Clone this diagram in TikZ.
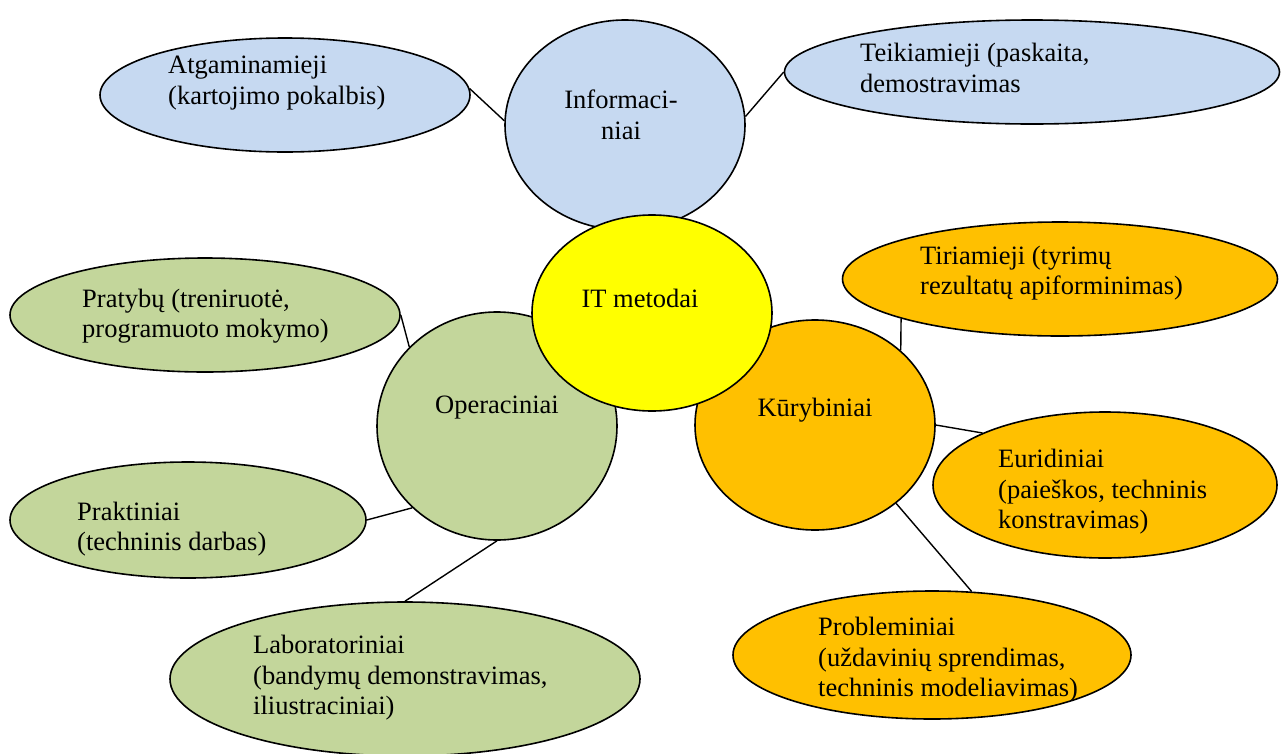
\documentclass[tikz,border=0pt]{standalone}
\usepackage{fontspec}
\setmainfont{Liberation Serif}
\usetikzlibrary{shapes.geometric}
\definecolor{cblue}{HTML}{C6D9F1}
\definecolor{cgreen}{HTML}{C3D69B}
\definecolor{corange}{HTML}{FFC000}
\definecolor{cyellow}{HTML}{FFFF00}
\begin{document}
\begin{tikzpicture}[x=1pt,y=-1pt,
  oval/.style={ellipse, draw=black, line width=1.6pt, inner sep=0pt},
  blueoval/.style={oval, fill=cblue},
  greenoval/.style={oval, fill=cgreen},
  orangeoval/.style={oval, fill=corange},
  txt/.style={font=\fontsize{26.5}{30.5}\selectfont, inner sep=0pt, align=left, anchor=west},
  ctxt/.style={font=\fontsize{26.5}{30.5}\selectfont, inner sep=0pt, align=center},
  link/.style={draw=black, line width=1.4pt}]
\clip (0,0) rectangle (1283,753);
% top (blue)
\node[blueoval, minimum width=370pt, minimum height=114pt] (atg) at (285,95) {};
\node[txt] (atgt) at (168,83) {Atgaminamieji\\(kartojimo pokalbis)};
\node[blueoval, minimum width=495pt, minimum height=104pt] (teik) at (1032,72) {};
\node[txt] (teikt) at (860,68) {Teikiamieji (paskaita,\\demostravimas};
\node[blueoval, minimum width=240pt, minimum height=210pt] (info) at (625,125) {};
\node[ctxt] (infot) at (621,115) {Informaci-\\niai};
% left (green)
\node[greenoval, minimum width=390pt, minimum height=114pt] (prat) at (205,315) {};
\node[txt] (pratt) at (82,316) {Pratybų (treniruotė,\\programuoto mokymo)};
\node[greenoval, minimum width=356pt, minimum height=116pt] (prak) at (188,520) {};
\node[txt] (prakt) at (77,529) {Praktiniai\\(techninis darbas)};
\node[greenoval, minimum width=470pt, minimum height=154pt] (lab) at (405,679) {};
\node[txt] (labt) at (253,678) {Laboratoriniai\\(bandymų demonstravimas,\\iliustraciniai)};
\node[greenoval, minimum width=240pt, minimum height=228pt] (oper) at (497,426) {};
\node[ctxt] (opert) at (497,408) {Operaciniai};
% right (orange)
\node[orangeoval, minimum width=435pt, minimum height=114pt] (tiri) at (1060,279) {};
\node[txt] (tirit) at (920,273) {Tiriamieji (tyrimų\\rezultatų apiforminimas)};
\node[orangeoval, minimum width=344pt, minimum height=146pt] (euri) at (1105,485) {};
\node[txt] (eurit) at (998,492) {Euridiniai\\(paieškos, techninis\\konstravimas)};
\node[orangeoval, minimum width=398pt, minimum height=128pt] (prob) at (932,655) {};
\node[txt] (probt) at (818,660) {Probleminiai\\(uždavinių sprendimas,\\techninis modeliavimas)};
\node[orangeoval, minimum width=240pt, minimum height=210pt] (kury) at (815,425) {};
\node[ctxt] (kuryt) at (815,410) {Kūrybiniai};
% centre
\node[oval, fill=cyellow, minimum width=240pt, minimum height=196pt] (it) at (652,313) {};
\node[ctxt] (itt) at (640,298) {IT metodai};
% connectors
\draw[link] (atg.2) -- (info.178);
\draw[link] (info.4) -- (teik.west);
\draw[link] (prat.east) -- (oper.138);
\draw[link] (prak.east) -- (oper.224);
\draw[link] (lab.north) -- (oper.south);
\draw[link] (tiri.194) -- (kury.41);
\draw[link] (kury.east) -- (euri.157);
\draw[link] (kury.316) -- (prob.58);
\end{tikzpicture}
\end{document}
